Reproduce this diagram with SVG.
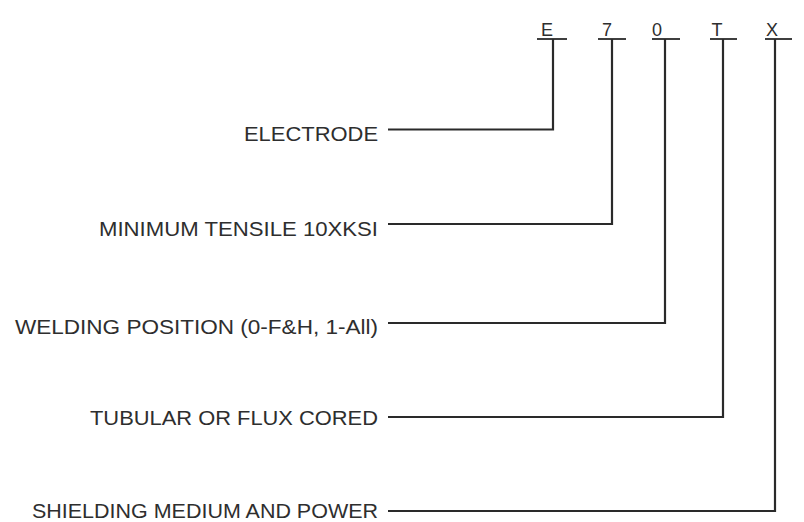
<svg xmlns="http://www.w3.org/2000/svg" width="804" height="522" viewBox="0 0 804 522">
<style>
.lbl{font-family:"Liberation Sans",Arial,sans-serif;font-size:21px;fill:#2e2e2e;text-anchor:end}
.code{font-family:"Liberation Sans",Arial,sans-serif;font-size:18px;fill:#2e2e2e;text-anchor:middle}
.ln{fill:none;stroke:#2a2a2a;stroke-width:2.2;stroke-linejoin:miter}
.ul{stroke:#2a2a2a;stroke-width:1.8}
</style>
<rect width="804" height="522" fill="#ffffff"/>
<g id="code">
<text class="code" x="547" y="36">E</text>
<line class="ul" x1="537" y1="39" x2="567" y2="39"/>
<text class="code" x="607" y="36">7</text>
<line class="ul" x1="598" y1="39" x2="626" y2="39"/>
<text class="code" x="657" y="36">0</text>
<line class="ul" x1="652" y1="39" x2="680" y2="39"/>
<text class="code" x="717" y="36">T</text>
<line class="ul" x1="710" y1="39" x2="737" y2="39"/>
<text class="code" x="772" y="36">X</text>
<line class="ul" x1="765" y1="39" x2="792" y2="39"/>
</g>
<g id="n-electrode"><text class="lbl" x="378" y="141" textLength="134" lengthAdjust="spacingAndGlyphs">ELECTRODE</text></g>
<g id="n-tensile"><text class="lbl" x="378" y="236" textLength="279" lengthAdjust="spacingAndGlyphs">MINIMUM TENSILE 10XKSI</text></g>
<g id="n-position"><text class="lbl" x="378" y="334" textLength="363" lengthAdjust="spacingAndGlyphs">WELDING POSITION (0-F&amp;H, 1-All)</text></g>
<g id="n-tubular"><text class="lbl" x="378" y="425" textLength="288" lengthAdjust="spacingAndGlyphs">TUBULAR OR FLUX CORED</text></g>
<g id="n-shielding"><text class="lbl" x="378" y="518" textLength="346" lengthAdjust="spacingAndGlyphs">SHIELDING MEDIUM AND POWER</text></g>
<g id="connectors">
<polyline class="ln" points="388,129.5 553,129.5 553,39"/>
<polyline class="ln" points="388,224 612,224 612,39"/>
<polyline class="ln" points="388,323 665,323 665,39"/>
<polyline class="ln" points="388,417 723,417 723,39"/>
<polyline class="ln" points="388,511 775,511 775,39"/>
</g>
</svg>
